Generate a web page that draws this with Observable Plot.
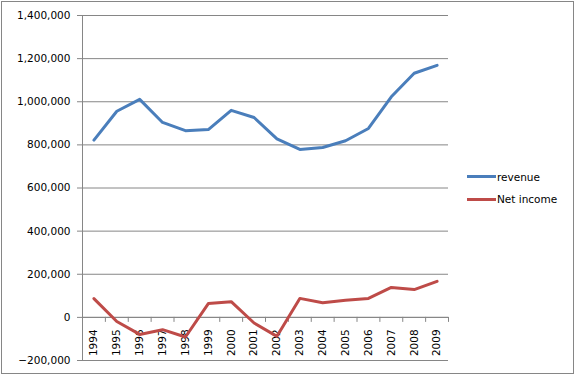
<!DOCTYPE html>
<html>
<head>
<meta charset="utf-8">
<script src="https://cdn.jsdelivr.net/npm/d3@7"></script>
<script src="https://cdn.jsdelivr.net/npm/@observablehq/plot@0.6"></script>
<style>
  html, body { margin: 0; padding: 0; background: #fff; }
  #wrap { position: relative; width: 577px; height: 377px; overflow: hidden; font-family: "DejaVu Sans", sans-serif; }
  #frame { position: absolute; left: 1px; top: 1px; width: 571px; height: 371px; border: 1px solid #868686; pointer-events: none; }
  #legend { position: absolute; left: 467px; top: 169px; font-size: 10.5px; color: #000; }
  .item { display: flex; align-items: center; height: 15px; margin-bottom: 7.5px; }
  .sw { width: 29px; height: 3px; margin-right: 1px; }
</style>
</head>
<body>
<div id="wrap">
  <div id="chart"></div>
  <div id="legend"></div>
  <div id="frame"></div>
</div>
<script>
const years = [1994,1995,1996,1997,1998,1999,2000,2001,2002,2003,2004,2005,2006,2007,2008,2009];
const revenue = [822000,956000,1011000,904000,866000,871000,960000,927000,828000,779000,788000,819000,876000,1023000,1132000,1169000];
const netIncome = [87000,-19000,-79000,-57000,-91000,64000,73000,-26000,-88000,88000,68000,79000,88000,139000,129000,167000];
const seriesNames = ["revenue", "Net income"];
const seriesColors = ["#4A7EBB", "#BE4B48"];
const yTicks = [-200000,0,200000,400000,600000,800000,1000000,1200000,1400000];

const rows = [];
years.forEach((yr, i) => {
  rows.push({year: yr, value: revenue[i], series: seriesNames[0]});
  rows.push({year: yr, value: netIncome[i], series: seriesNames[1]});
});
const bounds = years.map(y => y - 0.5).concat([years[years.length - 1] + 0.5]);

const chart = Plot.plot({
  width: 577,
  height: 377,
  marginLeft: 82,
  marginRight: 129,
  marginTop: 15,
  marginBottom: 17,
  style: {fontFamily: "DejaVu Sans, sans-serif", fontSize: "10.5px", color: "#000", background: "transparent"},
  x: {domain: [bounds[0], bounds[bounds.length - 1]], axis: null},
  y: {domain: [-200000, 1400000]},
  color: {domain: seriesNames, range: seriesColors},
  marks: [
    Plot.gridY(yTicks, {stroke: "#868686", strokeOpacity: 1}),
    Plot.axisY(yTicks, {tickSize: 5, tickPadding: 7, tickFormat: d3.format(","), stroke: "#868686", label: null, fontSize: 10.5}),
    Plot.ruleX([bounds[0]], {stroke: "#868686"}),
    Plot.ruleY([0], {stroke: "#868686"}),
    Plot.ruleX(bounds.slice(1), {y1: 0, y2: 0, insetBottom: -5, stroke: "#868686"}),
    Plot.text(years, {x: d => d, y: 0, text: d => String(d), rotate: -90, textAnchor: "end", dy: 12, fontSize: 10.5, fill: "#000"}),
    Plot.line(rows, {x: "year", y: "value", stroke: "series", z: "series", strokeWidth: 3, strokeLinejoin: "round", strokeLinecap: "round"})
  ]
});
document.getElementById("chart").appendChild(chart);

const legend = document.getElementById("legend");
seriesNames.forEach((name, i) => {
  const item = document.createElement("div");
  item.className = "item";
  const sw = document.createElement("div");
  sw.className = "sw";
  sw.style.background = seriesColors[i];
  const label = document.createElement("span");
  label.textContent = name;
  item.appendChild(sw);
  item.appendChild(label);
  legend.appendChild(item);
});
</script>
</body>
</html>
